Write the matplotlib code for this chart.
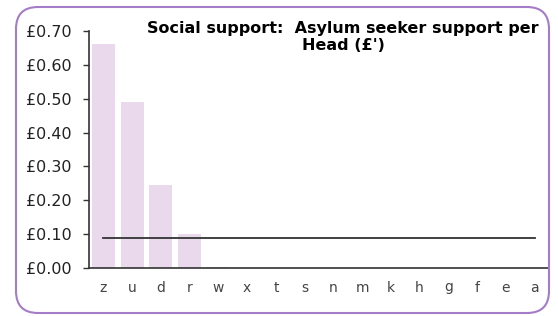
import numpy as np
import matplotlib.pyplot as plt
from matplotlib.patches import FancyBboxPatch
from matplotlib.transforms import IdentityTransform

cats = ['z', 'u', 'd', 'r', 'w', 'x', 't', 's', 'n', 'm', 'k', 'h', 'g', 'f', 'e', 'a']
vals = [0.662, 0.49, 0.245, 0.10, 0.004, 0, 0, 0, 0, 0, 0, 0, 0, 0, 0, 0]
avg = [0.09] * len(cats)
yticks = [0.0, 0.1, 0.2, 0.3, 0.4, 0.5, 0.6, 0.7]

fig = plt.figure(figsize=(5.58, 3.16), dpi=100)
# rounded border, in pixels
border = FancyBboxPatch((16, 316 - 313), 549 - 16, 313 - 7,
                        boxstyle="round,pad=0,rounding_size=22",
                        transform=IdentityTransform(), fill=False,
                        edgecolor='#a47cc8', linewidth=1.5)
fig.patches.append(border)

ax = fig.add_axes([89/558, (316-268)/316, (549-89)/558, (268-31)/316])
x = np.arange(len(cats))
ax.bar(x, vals, width=0.8, color='#ead8ec')
ax.plot(x, avg, color='#333333', linewidth=1.3)

ax.set_xlim(-0.5, 15.5)
ax.set_ylim(0, 0.7)
ax.set_yticks(yticks)
ax.set_yticklabels(['£%.2f' % v for v in yticks], fontsize=11.5, color='#222222')
ax.set_xticks(x)
ax.set_xticklabels(cats, fontsize=10, color='#444444')
ax.tick_params(axis='x', length=0, pad=9)
ax.tick_params(axis='y', length=4.5, width=1, color='#333333', pad=8)
for s in ['top', 'right']:
    ax.spines[s].set_visible(False)
ax.spines['left'].set_color('#333333')
ax.spines['bottom'].set_color('#333333')
ax.spines['left'].set_linewidth(1.2)
ax.spines['bottom'].set_linewidth(1.2)

fig.text(343/558, 1 - 37/316, "Social support:  Asylum seeker support per\nHead (£')",
         ha='center', va='center', fontsize=11.5, fontweight='bold',
         linespacing=1.2)

fig.savefig('out.png', dpi=100)
